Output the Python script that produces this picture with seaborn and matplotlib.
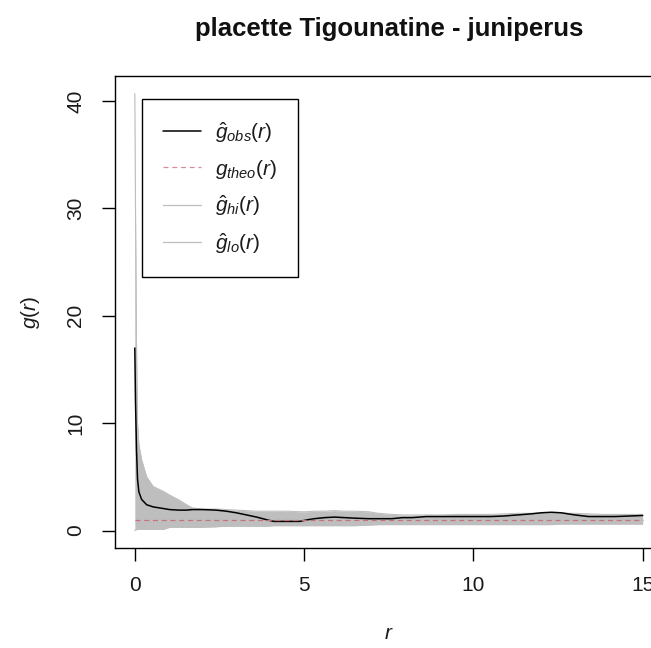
import numpy as np
import pandas as pd
import matplotlib
matplotlib.use("Agg")
import matplotlib.pyplot as plt
import seaborn as sns
from matplotlib.lines import Line2D

# pair correlation function g(r) with simulation envelope
r = [0, 0.02, 0.05, 0.08, 0.12, 0.2, 0.35, 0.54, 0.84, 1.03, 1.3, 1.53, 1.7,
     2.0, 2.4, 2.7, 3.0, 3.3, 3.6, 3.9, 4.1, 4.5, 4.87, 5.1, 5.3, 5.6, 5.9,
     6.2, 6.5, 6.9, 7.2, 7.6, 7.9, 8.2, 8.6, 9.0, 9.5, 10.0, 10.5, 10.9,
     11.3, 11.7, 12.0, 12.3, 12.6, 13.0, 13.4, 13.8, 14.2, 14.6, 15.0]
g_obs = [17.0, 12.0, 7.5, 4.8, 3.6, 2.9, 2.4, 2.2, 2.05, 1.95, 1.9, 1.9, 1.95,
         1.95, 1.9, 1.8, 1.65, 1.45, 1.25, 1.0, 0.85, 0.85, 0.85, 1.0, 1.1,
         1.2, 1.25, 1.2, 1.15, 1.1, 1.1, 1.1, 1.2, 1.2, 1.3, 1.3, 1.3, 1.3,
         1.3, 1.35, 1.45, 1.55, 1.65, 1.7, 1.65, 1.45, 1.3, 1.3, 1.3, 1.35, 1.4]
g_hi = [40.7, 30.0, 17.0, 10.0, 8.0, 6.6, 5.0, 4.1, 3.65, 3.3, 2.85, 2.4, 2.1,
        2.0, 2.0, 1.95, 1.9, 1.85, 1.8, 1.8, 1.8, 1.8, 1.75, 1.75, 1.8, 1.8,
        1.85, 1.8, 1.8, 1.75, 1.6, 1.5, 1.45, 1.45, 1.45, 1.45, 1.5, 1.5, 1.5,
        1.55, 1.6, 1.6, 1.6, 1.6, 1.6, 1.6, 1.55, 1.5, 1.5, 1.5, 1.5]
g_lo = [0.0, 0.05, 0.08, 0.1, 0.1, 0.1, 0.1, 0.1, 0.1, 0.3, 0.3, 0.3, 0.3,
        0.3, 0.35, 0.4, 0.4, 0.4, 0.4, 0.4, 0.45, 0.45, 0.45, 0.45, 0.45,
        0.45, 0.45, 0.45, 0.45, 0.5, 0.55, 0.55, 0.55, 0.55, 0.55, 0.55,
        0.55, 0.55, 0.55, 0.55, 0.55, 0.55, 0.55, 0.55, 0.6, 0.6, 0.6, 0.6,
        0.6, 0.6, 0.6]
g_theo = [1.0] * len(r)

x_ticks = [0, 5, 10, 15]
y_ticks = [0, 10, 20, 30, 40]
title = "placette Tigounatine - juniperus"

sns.set_theme(style="white")
plt.rcParams["font.family"] = ["Liberation Sans", "DejaVu Sans"]
plt.rcParams["mathtext.fontset"] = "custom"
plt.rcParams["mathtext.rm"] = "Liberation Sans"
plt.rcParams["mathtext.it"] = "Liberation Sans:italic"
plt.rcParams["mathtext.bf"] = "Liberation Sans:bold"

df = pd.DataFrame({"r": r, "obs": g_obs, "theo": g_theo, "hi": g_hi, "lo": g_lo})

W, H = 651, 648
fig = plt.figure(figsize=(W / 100, H / 100), dpi=100)
ax = fig.add_axes([114.5 / W, 1 - 548 / H, (663 - 114.5) / W, (548 - 76) / H])

shade = "#bebebe"
theo_col = "#c9707f"
ax.fill_between(df["r"], df["lo"], df["hi"], color=shade, linewidth=0)
sns.lineplot(data=df, x="r", y="hi", ax=ax, color=shade, linewidth=0.8)
sns.lineplot(data=df, x="r", y="lo", ax=ax, color=shade, linewidth=0.8)
sns.lineplot(data=df, x="r", y="obs", ax=ax, color="black", linewidth=1.1)
sns.lineplot(data=df, x="r", y="theo", ax=ax, color=theo_col, linewidth=0.9,
             linestyle=(0, (4, 3)))

# axis limits with 4% padding around the data range
xmin, xmax = min(r), max(r)
ymin, ymax = min(g_lo), max(g_hi)
dx, dy = 0.04 * (xmax - xmin), 0.04 * (ymax - ymin)
ax.set_xlim(xmin - dx, xmax + dx)
ax.set_ylim(ymin - dy, ymax + dy)

ax.set_xticks(x_ticks)
ax.set_yticks(y_ticks)
ax.tick_params(axis="both", which="both", direction="out", length=9.1,
               width=1.0, color="black", labelsize=15, labelcolor="#1a1a1a",
               bottom=True, left=True)
ax.tick_params(axis="x", pad=10.8)
ax.tick_params(axis="y", pad=12)
for lab in ax.get_yticklabels():
    lab.set_rotation(90)
    lab.set_va("center")

for s in ax.spines.values():
    s.set_visible(True)
    s.set_color("black")
    s.set_linewidth(1.0)

ax.set_title(title, fontsize=18.5, fontweight="bold", pad=29, color="#111111")
ax.set_xlabel(r"$r$", fontsize=15, color="#1a1a1a")
ax.set_ylabel(r"$g(r)$", fontsize=15, color="#1a1a1a")
ax.xaxis.set_label_coords(389 / W, 1 - 624 / H, transform=fig.transFigure)
ax.yaxis.set_label_coords(42 / W, 1 - 312 / H, transform=fig.transFigure)

handles = [
    Line2D([], [], color="black", linewidth=1.1),
    Line2D([], [], color="#d88c99", linewidth=0.9, linestyle=(0, (4, 3))),
    Line2D([], [], color=shade, linewidth=0.9),
    Line2D([], [], color=shade, linewidth=0.9),
]
labels = [r"$\hat{g}_{obs}(r)$", r"$g_{theo}(r)$", r"$\hat{g}_{hi}(r)$",
          r"$\hat{g}_{lo}(r)$"]
leg = ax.legend(handles, labels, loc="upper left",
                bbox_to_anchor=(141.7 / W, 1 - 99.3 / H),
                bbox_transform=fig.transFigure, borderaxespad=0,
                prop={"size": 15}, frameon=True, fancybox=False, framealpha=1,
                edgecolor="black", borderpad=1.0, handlelength=1.85,
                handletextpad=0.67, labelspacing=0.62)
leg.get_frame().set_linewidth(1.0)
for t in leg.get_texts():
    t.set_color("#1a1a1a")

fig.savefig("out.png", dpi=100)
